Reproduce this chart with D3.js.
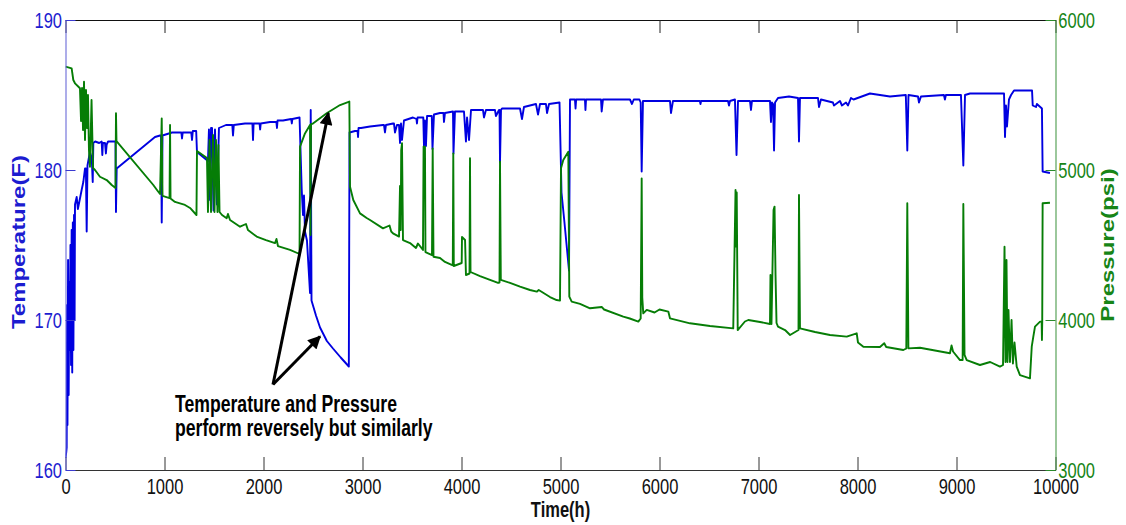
<!DOCTYPE html>
<html>
<head>
<meta charset="utf-8">
<script src="https://cdn.jsdelivr.net/npm/d3@7"></script>
<style>
html,body{margin:0;padding:0;background:#ffffff;}
svg{display:block;}
text{font-family:"Liberation Sans",Arial,Helvetica,sans-serif;}
</style>
</head>
<body>
<svg id="chart" width="1126" height="525"></svg>
<script>
// ---------------- data ----------------
const xTicks = [0,1000,2000,3000,4000,5000,6000,7000,8000,9000,10000];
const temperatureTicks = [160,170,180,190];
const pressureTicks = [3000,4000,5000,6000];
const xLabel = "Time(h)";
const leftLabel = "Temperature(F)";
const rightLabel = "Pressure(psi)";
const annotationLines = ["Temperature and Pressure","perform reversely but similarly"];

// [hours, °F]
const temperatureSeries = [
[0,160.8],[8,161.2],[12,161.5],[16,171],[20,163],[26,174],[32,165],[38,172.5],[44,168],[50,175],[56,167],[62,176],[68,166.5],[74,176.5],[80,168],[86,177],[92,170],[96,177.7],[113,178.2],[125,177.4],[146,178.1],[164,178.7],[180,179.2],[197,180.1],[206,180.1],[214,175.9],[222,180.3],[247,181.2],[265,180.8],[275,179.2],[281,181.8],[300,181.9],[340,181.8],[365,181.9],[372,181],[378,181.8],[399,181.8],[408,181.1],[416,181.7],[430,181.9],[483,181.9],[505,181.9],[510,177.2],[517,180.1],[904,182.2],[955,182.3],[965,182.3],[972,176.5],[980,182.3],[1076,182.5],[1136,182.5],[1170,182.5],[1177,182.1],[1184,182.5],[1207,182.5],[1270,182.5],[1278,182],[1286,182.6],[1320,182.6],[1328,181.2],[1439,180.6],[1449,182.7],[1460,178],[1470,182.8],[1480,182.8],[1495,177.3],[1510,182.7],[1530,177.7],[1550,182.8],[1621,183],[1685,183],[1692,182.3],[1700,183],[1813,183.1],[1888,183.1],[1894,182],[1900,183.1],[1960,183.1],[1966,182.7],[1972,183.1],[2066,183.2],[2130,183.2],[2136,182.8],[2142,183.3],[2197,183.3],[2280,183.4],[2286,183.1],[2292,183.4],[2364,183.5],
[2386,178.7],[2399,177],[2409,178.3],[2419,175.9],[2439,175.3],[2470,171.8],[2477,184],[2485,171.3],[2530,170.3],[2571,169.5],[2640,168.6],[2702,168.1],[2780,167.5],[2862,166.9],[2869,182.5],[2924,182.6],[2950,182.6],[2955,182.2],[2960,182.8],[2985,182.8],[3076,182.9],
[3207,183],[3217,183],[3227,182.5],[3237,183],[3308,183.1],[3318,183.1],[3328,182.5],[3348,183],[3369,183],[3379,181.8],[3389,183.1],[3399,182],[3419,183.3],[3510,183.5],[3545,183.4],[3550,183.1],[3556,183.5],[3614,183.5],[3621,181.6],[3631,183.3],[3641,181.6],[3652,183.6],[3700,183.6],[3707,181.4],[3722,183.7],[3783,183.8],[3818,183.8],[3823,183.2],[3833,183.8],[3914,183.9],[3919,181.1],[3934,183.9],[4025,183.9],[4045,181.9],[4056,183.5],[4076,182],[4096,184],[4217,184],[4227,183.5],[4247,184],[4338,184],[4348,183.6],[4379,184],[4384,184],[4389,180.5],[4399,184],[4409,184.1],[4591,184.1],[4611,183.4],[4631,184.2],[4752,184.4],[4773,183.7],[4793,184.4],[4853,184.4],[4864,183.8],[4884,184.4],[4990,184.5],[5005,180.1],[5010,178.5],[5040,176.5],[5086,173.3],[5096,184.7],
[5146,184.7],[5152,184.1],[5158,184.7],[5247,184.7],[5252,184],[5258,184.7],[5409,184.7],[5416,183.9],[5429,184.7],[5702,184.7],[5722,184.4],[5740,184.7],[5797,184.7],[5810,184.5],[5820,179.9],[5833,184.6],[6106,184.6],[6116,183.8],[6136,184.6],[6408,184.6],[6414,184.4],[6420,184.6],[6692,184.6],[6702,184.3],[6712,184.6],[6762,184.7],[6778,181],[6793,184.6],[6914,184.6],[6924,184],[6934,184.6],[7116,184.6],[7126,183.2],[7136,184.5],[7147,184.4],[7157,181.3],[7167,184.5],[7197,184.8],[7308,184.9],[7399,184.8],[7409,181.9],[7419,184.8],[7601,184.8],[7611,184.2],[7631,184.7],[7752,184.5],[7762,184.3],[7823,184.6],[7843,184.3],[7884,184.5],[7904,184.3],[7934,184.8],[7960,184.7],[8126,185.1],[8227,185],[8328,184.9],[8488,185],[8503,181.3],[8515,185],[8611,184.9],[8621,184.5],[8641,184.9],[8873,185],[8883,184.7],[8893,185],[9045,185],[9069,180.3],[9086,185],[9136,185.1],[9288,185.1],[9480,185.1],[9490,182.2],[9500,184.3],[9510,182.9],[9530,184.7],[9551,185],[9581,185.3],[9763,185.3],[9770,184.3],[9803,184.2],[9812,184.4],[9863,184.1],[9870,179.9],[9944,179.8]
];

// [hours, psi]
const pressureSeries = [
[0,5689],[62,5678],[79,5600],[96,5578],[146,5545],[157,5327],[167,5547],[177,5267],[187,5589],[197,5200],[207,5533],[217,5280],[227,5500],[237,5133],[247,5022],[263,5467],[278,5013],[298,5000],[348,4955],[416,4933],[467,4900],[505,4880],[510,5378],[515,5193],[887,4900],[924,4867],[955,4840],[972,5344],[980,4827],[1051,4813],[1056,5300],[1061,4810],[1106,4787],[1207,4767],[1258,4747],[1323,4700],[1328,5127],[1429,5080],[1439,4720],[1455,5200],[1470,4720],[1490,5233],[1505,4720],[1520,5200],[1535,4720],[1545,5167],[1556,4720],[1581,4700],[1628,4678],[1641,4707],[1662,4667],[1763,4622],[1823,4640],[1843,4600],[1931,4556],[2025,4533],[2116,4513],[2131,4540],[2146,4493],[2268,4467],[2364,4440],
[2369,5156],[2419,5244],[2470,5300],[2475,4567],[2480,5305],[2503,5311],[2638,5378],[2773,5433],[2867,5456],[2874,4889],[2907,4800],[2975,4711],[3042,4680],[3076,4667],[3207,4611],[3273,4630],[3290,4590],[3308,4578],[3369,4556],[3379,4893],[3386,4600],[3391,5133],[3399,5178],[3409,4533],[3480,4513],[3540,4480],[3560,4510],[3611,4467],[3617,5156],[3631,5156],[3636,4453],[3702,4433],[3709,5144],[3717,4422],[3783,4413],[3833,4387],[3901,4367],[3912,4365],[3917,5111],[3922,4360],[4002,4380],[4005,4553],[4036,4533],[4045,4300],[4081,4310],[4086,5078],[4091,4320],[4187,4293],[4288,4267],[4369,4247],[4384,4250],[4389,5056],[4397,4267],[4490,4247],[4591,4222],[4692,4200],[4760,4189],[4780,4200],[4894,4153],[4961,4133],[4995,4129],
[5005,5011],[5028,5067],[5079,5122],[5089,4156],[5113,4122],[5197,4107],[5298,4078],[5416,4087],[5440,4070],[5634,4022],[5700,4010],[5786,3989],[5810,4010],[5820,4944],[5826,4150],[5836,4044],[5871,4067],[5950,4050],[6000,4070],[6089,4056],[6106,4011],[6308,3978],[6510,3960],[6745,3944],[6768,4867],[6775,4489],[6780,4850],[6790,3933],[6863,3990],[6897,4000],[7015,3987],[7116,3973],[7121,4300],[7131,3973],[7152,4733],[7162,4756],[7172,4300],[7182,3980],[7197,3956],[7268,3933],[7319,3900],[7404,3933],[7409,4833],[7419,3944],[7571,3920],[7722,3900],[7891,3889],[7992,3911],[8005,3850],[8059,3822],[8227,3820],[8270,3845],[8290,3820],[8463,3800],[8493,3810],[8503,4778],[8514,3811],[8631,3815],[8934,3778],[8950,3830],[8965,3790],[9035,3733],[9062,3733],[9069,4773],[9081,3767],[9103,3733],[9237,3700],[9340,3720],[9439,3689],[9470,3700],[9485,4489],[9495,3720],[9505,4400],[9515,3720],[9525,4067],[9540,3720],[9556,4000],[9570,3710],[9586,3850],[9608,3689],[9641,3633],[9742,3611],[9760,3822],[9776,3889],[9793,3956],[9844,3989],[9860,3989],[9863,3867],[9866,3989],[9870,4778],[9944,4782]
];

// annotation anchor points (hours, °F on the temperature axis)
const arrowTail = [2096,165.7];
const arrowTips = [[2655,183.8],[2571,168.9]];
const annotationAnchor = [1106,163.9];

// ---------------- drawing ----------------
const svg = d3.select("#chart");
const plot = {left:65.5,right:1055.5,top:20,bottom:470};
const SX = 0.75;                       // horizontal squeeze of the original text
const blue = "#0000e0", green = "#067d06";
const blueText = "#1c1cd0", greenText = "#178517";

const x = d3.scaleLinear().domain([0,10000]).range([plot.left,plot.right]);
const yT = d3.scaleLinear().domain([160,190]).range([plot.bottom,plot.top]);
const yP = d3.scaleLinear().domain([3000,6000]).range([plot.bottom,plot.top]);
const fmt = d3.format("d");

svg.append("rect").attr("width",1126).attr("height",525).attr("fill","#fff");

svg.append("defs").append("clipPath").attr("id","clip")
  .append("rect").attr("x",plot.left).attr("y",plot.top-2)
  .attr("width",plot.right-plot.left).attr("height",plot.bottom-plot.top+4);

// series
const lineT = d3.line().x(d=>x(d[0])).y(d=>yT(d[1]));
const lineP = d3.line().x(d=>x(d[0])).y(d=>yP(d[1]));
const series = svg.append("g").attr("clip-path","url(#clip)");
series.append("path").datum(temperatureSeries).attr("d",lineT)
  .attr("fill","none").attr("stroke",blue).attr("stroke-width",1.9)
  .attr("stroke-linejoin","round");
series.append("path").datum(pressureSeries).attr("d",lineP)
  .attr("fill","none").attr("stroke",green).attr("stroke-width",1.9)
  .attr("stroke-linejoin","round");

// axes
function squeezeText(g, dx){
  g.selectAll("text").attr("transform",`scale(${SX},1)`)
   .attr("font-size",22);
  if(dx!==undefined) g.selectAll("text").attr("x",dx/SX);
}
const gBottom = svg.append("g").attr("transform",`translate(0,${plot.bottom})`)
  .call(d3.axisBottom(x).tickValues(xTicks).tickSizeInner(-13).tickSizeOuter(0).tickPadding(8).tickFormat(fmt));
gBottom.select(".domain").attr("stroke","#333").attr("stroke-width",1.2);
gBottom.selectAll(".tick line").attr("stroke","#333");
gBottom.selectAll("text").attr("fill","#111");
squeezeText(gBottom);

const gTop = svg.append("g").attr("transform",`translate(0,${plot.top})`)
  .call(d3.axisTop(x).tickValues(xTicks).tickSizeInner(-13).tickSizeOuter(0).tickFormat(""));
gTop.select(".domain").attr("stroke","#111").attr("stroke-width",1.2);
gTop.selectAll(".tick line").attr("stroke","#222");

const gLeft = svg.append("g").attr("transform",`translate(${plot.left},0)`)
  .call(d3.axisLeft(yT).tickValues(temperatureTicks).tickSizeInner(-10).tickSizeOuter(0).tickPadding(3).tickFormat(fmt));
gLeft.select(".domain").attr("stroke","#6a6ad8").attr("stroke-width",1.1);
gLeft.selectAll(".tick line").attr("stroke","#3a3ad0");
gLeft.selectAll("text").attr("fill",blueText);
squeezeText(gLeft,-3.5);

const gRight = svg.append("g").attr("transform",`translate(${plot.right},0)`)
  .call(d3.axisRight(yP).tickValues(pressureTicks).tickSizeInner(-10).tickSizeOuter(0).tickPadding(3).tickFormat(fmt));
gRight.select(".domain").attr("stroke","#4a9a4a").attr("stroke-width",1.1);
gRight.selectAll(".tick line").attr("stroke","#2a8a2a");
gRight.selectAll("text").attr("fill",greenText);
squeezeText(gRight,2.8);

// axis titles
svg.append("text").attr("transform",`translate(${(plot.left+plot.right)/2},517) scale(${SX},1)`)
  .attr("text-anchor","middle").attr("font-size",22).attr("font-weight","bold")
  .attr("fill","#111").text(xLabel);
svg.append("text").attr("transform",`translate(25,${(plot.top+plot.bottom)/2-3}) scale(${SX},1) rotate(-90)`)
  .attr("text-anchor","middle").attr("font-size",24).attr("font-weight","bold")
  .attr("fill",blueText).text(leftLabel);
svg.append("text").attr("transform",`translate(1114,${(plot.top+plot.bottom)/2}) scale(${SX},1) rotate(-90)`)
  .attr("text-anchor","middle").attr("font-size",24).attr("font-weight","bold")
  .attr("fill",greenText).text(rightLabel);

// annotation arrows
const defs = svg.select("defs");
defs.append("marker").attr("id","ah").attr("viewBox","0 0 10 10")
  .attr("refX",9).attr("refY",5).attr("markerUnits","userSpaceOnUse")
  .attr("markerWidth",15).attr("markerHeight",13).attr("orient","auto")
  .append("path").attr("d","M0,0 L10,5 L0,10 z").attr("fill","#000");
arrowTips.forEach(tip=>{
  svg.append("line")
    .attr("x1",x(arrowTail[0])).attr("y1",yT(arrowTail[1]))
    .attr("x2",x(tip[0])).attr("y2",yT(tip[1]))
    .attr("stroke","#000").attr("stroke-width",3)
    .attr("marker-end","url(#ah)");
});

const ann = svg.append("g")
  .attr("transform",`translate(${x(annotationAnchor[0])},${yT(annotationAnchor[1])}) scale(${SX},1)`);
annotationLines.forEach((s,i)=>{
  ann.append("text").attr("x",0).attr("y",i*25)
    .attr("font-size",23.5).attr("font-weight","bold").attr("fill","#000").text(s);
});
</script>
</body>
</html>
